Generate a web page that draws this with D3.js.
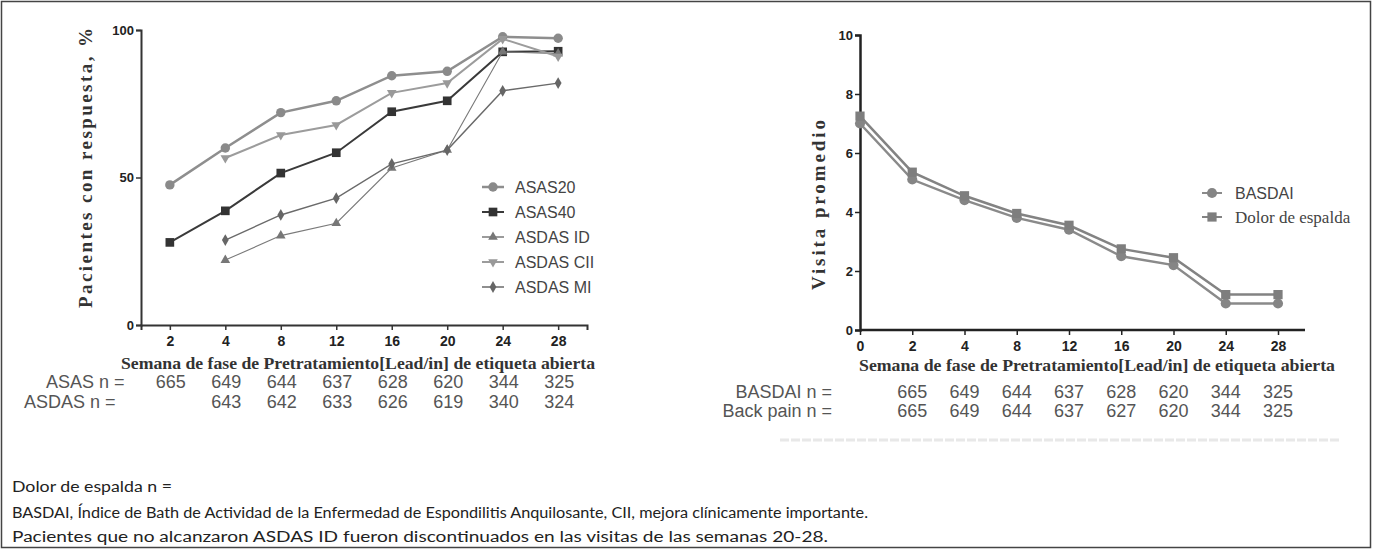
<!DOCTYPE html>
<html>
<head>
<meta charset="utf-8">
<script src="https://cdn.jsdelivr.net/npm/d3@7"></script>
<style>
body { margin:0; background:#fff; }
svg text { fill:#333; }
.tick text { font-family: "Liberation Sans", Arial, sans-serif; font-weight:bold; font-size:14px; fill:#222; }
.ttl { font-family: "Liberation Serif", "Times New Roman", serif; font-weight:bold; fill:#333; }
.tbl { font-family: "Liberation Sans", Arial, sans-serif; font-size:18px; fill:#555; }
.leg { font-family: "Liberation Sans", Arial, sans-serif; font-size:16px; fill:#444; }
.foot { font-family: Lato, "Noto Sans", sans-serif; font-size:15.5px; fill:#222; }
</style>
</head>
<body>
<svg id="fig" width="1373" height="550"></svg>
<script>
// left panel: response rates
var weeksL = [2,4,8,12,16,20,24,28];
var asas20   = [47.5,60,72,76,84.5,86,97.7,97.2];
var asas40   = [28,38.7,51.5,58.4,72.3,76,92.6,92.8];
var asdasID  = [null,22,30.3,34.5,53.2,59.3,92.6,92];
var asdasCII = [null,56.6,64.4,67.8,78.7,82,97,91];
var asdasMI  = [null,28.8,37.3,43,54.6,59.3,79.4,82];
var asasN  = [665,649,644,637,628,620,344,325];
var asdasN = [null,643,642,633,626,619,340,324];
var ticksL = [0,50,100];

// right panel: mean scores
var weeksR = [0,2,4,8,12,16,20,24,28];
var basdai   = [7.0,5.1,4.4,3.8,3.4,2.5,2.2,0.9,0.9];
var backPain = [7.25,5.35,4.55,3.95,3.55,2.75,2.45,1.2,1.2];
var basdaiN = [665,649,644,637,628,620,344,325];
var backN   = [665,649,644,637,627,620,344,325];
var ticksR = [0,2,4,6,8,10];

var xLabel = "Semana de fase de Pretratamiento[Lead/in] de etiqueta abierta";
var notes = [
  "Dolor de espalda n =",
  "BASDAI, Índice de Bath de Actividad de la Enfermedad de Espondilitis Anquilosante, CII, mejora clínicamente importante.",
  "Pacientes que no alcanzaron ASDAS ID fueron discontinuados en las visitas de las semanas 20-28."
];
var notesLen = [160, 856, 816];

var svg = d3.select("#fig");

svg.append("rect").attr("x",1.5).attr("y",1.5).attr("width",1369).attr("height",546)
  .attr("fill","none").attr("stroke","#444").attr("stroke-width",1.5);

function symbolPath(type, size) {
  return d3.symbol().type(type).size(size)();
}

function drawSeries(g, x, y, weeks, vals, st) {
  var pts = weeks.map(function(w,i){ return {w:w, v:vals[i]}; }).filter(function(d){ return d.v!=null; });
  var line = d3.line().x(function(d){ return x(d.w); }).y(function(d){ return y(d.v); });
  g.append("path").datum(pts).attr("d", line)
    .attr("fill","none").attr("stroke", st.line).attr("stroke-width", st.lw);
  g.selectAll("path.m"+st.id).data(pts).enter().append("path")
    .attr("class","m"+st.id)
    .attr("d", symbolPath(st.sym, st.size))
    .attr("transform", function(d){ return "translate("+x(d.w)+","+y(d.v)+")"+(st.rot? " rotate("+st.rot+")":""); })
    .attr("fill", st.fill);
}

// ---------- left chart ----------
var gl = svg.append("g");
var xl = d3.scalePoint().domain(weeksL).range([141,587]).padding(0.52);
var yl = d3.scaleLinear().domain([0,100]).range([325,30]);

gl.append("g").attr("transform","translate(0,325)")
  .call(d3.axisBottom(xl).tickSize(5).tickPadding(6))
  .call(function(a){ a.select(".domain").attr("stroke","#333").attr("stroke-width",2); a.selectAll(".tick line").attr("stroke","#333").attr("stroke-width",1.5); });
gl.append("g").attr("transform","translate(141,0)")
  .call(d3.axisLeft(yl).tickValues(ticksL).tickSize(5).tickPadding(2))
  .call(function(a){ a.select(".domain").attr("stroke","#333").attr("stroke-width",2); a.selectAll(".tick line").attr("stroke","#333").attr("stroke-width",1.5); a.selectAll("text").style("font-size","13px"); });

var seriesL = [
  {id:"a", name:"ASAS20",     vals:asas20,   line:"#8e8e8e", lw:2.5, sym:d3.symbolCircle,   size:70, fill:"#8a8a8a"},
  {id:"b", name:"ASAS40",     vals:asas40,   line:"#3a3a3a", lw:2,   sym:d3.symbolSquare,   size:75, fill:"#333"},
  {id:"c", name:"ASDAS ID",   vals:asdasID,  line:"#7a7a7a", lw:1.1, sym:d3.symbolTriangle, size:40, fill:"#777"},
  {id:"d", name:"ASDAS CII",  vals:asdasCII, line:"#9c9c9c", lw:2,   sym:d3.symbolTriangle, size:40, fill:"#999", rot:180},
  {id:"e", name:"ASDAS MI",   vals:asdasMI,  line:"#6a6a6a", lw:1.4, sym:d3.symbolDiamond,  size:40, fill:"#666"}
];
seriesL.forEach(function(s){ drawSeries(gl, xl, yl, weeksL, s.vals, s); });

var legL = gl.append("g").selectAll("g").data(seriesL).enter().append("g")
  .attr("transform", function(d,i){ return "translate(493,"+(187+i*25)+")"; });
legL.append("line").attr("x1",-11).attr("x2",11).attr("stroke",function(d){return d.line;}).attr("stroke-width",function(d){return Math.max(d.lw,1.5);});
legL.append("path").attr("d",function(d){ return symbolPath(d.sym,d.size); })
  .attr("transform",function(d){ return d.rot? "rotate("+d.rot+")":""; })
  .attr("fill",function(d){return d.fill;});
legL.append("text").attr("class","leg").attr("x",22).attr("dy","0.35em").text(function(d){return d.name;});

gl.append("text").attr("class","ttl").attr("x",358).attr("y",369)
  .attr("text-anchor","middle").style("font-size","17px")
  .attr("textLength",474).attr("lengthAdjust","spacingAndGlyphs").text(xLabel);
gl.append("text").attr("class","ttl").attr("transform","translate(92,168) rotate(-90)")
  .attr("text-anchor","middle").style("font-size","19px")
  .attr("textLength",280).attr("lengthAdjust","spacing").text("Pacientes con respuesta, %");

var tL = gl.append("g");
tL.append("text").attr("class","tbl").attr("x",46).attr("y",388).text("ASAS n =");
tL.append("text").attr("class","tbl").attr("x",24).attr("y",408).text("ASDAS n =");
tL.selectAll("text.r1").data(weeksL).enter().append("text").attr("class","tbl r1")
  .attr("x",function(w){ return xl(w)+1; }).attr("y",388).attr("text-anchor","middle")
  .text(function(w,i){ return asasN[i]; });
tL.selectAll("text.r2").data(weeksL.filter(function(w,i){ return asdasN[i]!=null; })).enter().append("text").attr("class","tbl r2")
  .attr("x",function(w){ return xl(w)+1; }).attr("y",408).attr("text-anchor","middle")
  .text(function(w){ return asdasN[weeksL.indexOf(w)]; });

// ---------- right chart ----------
var gr = svg.append("g");
var xr = d3.scalePoint().domain(weeksR).range([860,1278]);
var yr = d3.scaleLinear().domain([0,10]).range([330,35]);

gr.append("g").attr("transform","translate(0,330)")
  .call(d3.axisBottom(xr).tickSize(5).tickPadding(6))
  .call(function(a){ a.select(".domain").remove(); a.selectAll(".tick line").attr("stroke","#222").attr("stroke-width",1.5); });
gr.append("line").attr("x1",860).attr("x2",1305).attr("y1",330).attr("y2",330).attr("stroke","#222").attr("stroke-width",2.5);
gr.append("g").attr("transform","translate(860,0)")
  .call(d3.axisLeft(yr).tickValues(ticksR).tickSize(5).tickPadding(2))
  .call(function(a){ a.select(".domain").attr("stroke","#222").attr("stroke-width",2.5); a.selectAll(".tick line").attr("stroke","#222").attr("stroke-width",1.5); a.selectAll("text").style("font-size","13px"); });

var seriesR = [
  {id:"f", name:"BASDAI",           vals:basdai,   line:"#8a8a8a", lw:2.5, sym:d3.symbolCircle, size:80, fill:"#858585", serif:false},
  {id:"g", name:"Dolor de espalda", vals:backPain, line:"#838383", lw:2.5, sym:d3.symbolSquare, size:85, fill:"#7e7e7e", serif:true}
];
seriesR.forEach(function(s){ drawSeries(gr, xr, yr, weeksR, s.vals, s); });

var legR = gr.append("g").selectAll("g").data(seriesR).enter().append("g")
  .attr("transform", function(d,i){ return "translate(1212,"+(193+i*24)+")"; });
legR.append("line").attr("x1",-10).attr("x2",10).attr("stroke",function(d){return d.line;}).attr("stroke-width",2);
legR.append("path").attr("d",function(d){ return symbolPath(d.sym,d.size); }).attr("fill",function(d){return d.fill;});
legR.append("text").attr("x",23).attr("dy","0.35em")
  .attr("class",function(d){ return d.serif? "" : "leg"; })
  .style("font-family",function(d){ return d.serif? "'Liberation Serif', serif" : null; })
  .style("font-size",function(d){ return d.serif? "17px" : null; })
  .style("fill","#444")
  .text(function(d){return d.name;});

gr.append("text").attr("class","ttl").attr("x",1097).attr("y",371)
  .attr("text-anchor","middle").style("font-size","17px")
  .attr("textLength",476).attr("lengthAdjust","spacingAndGlyphs").text(xLabel);
gr.append("text").attr("class","ttl").attr("transform","translate(825,205) rotate(-90)")
  .attr("text-anchor","middle").style("font-size","19px")
  .attr("textLength",170).attr("lengthAdjust","spacing").text("Visita promedio");

var tR = gr.append("g");
tR.append("text").attr("class","tbl").attr("x",832).attr("y",398).attr("text-anchor","end").text("BASDAI n =");
tR.append("text").attr("class","tbl").attr("x",832).attr("y",417).attr("text-anchor","end").text("Back pain n =");
tR.selectAll("text.r1").data(weeksR.slice(1)).enter().append("text").attr("class","tbl r1")
  .attr("x",function(w){ return xr(w); }).attr("y",398).attr("text-anchor","middle")
  .text(function(w,i){ return basdaiN[i]; });
tR.selectAll("text.r2").data(weeksR.slice(1)).enter().append("text").attr("class","tbl r2")
  .attr("x",function(w){ return xr(w); }).attr("y",417).attr("text-anchor","middle")
  .text(function(w,i){ return backN[i]; });
gr.append("line").attr("x1",780).attr("x2",1340).attr("y1",440).attr("y2",440)
  .attr("stroke","#e8e8e8").attr("stroke-width",3).attr("stroke-dasharray","9,2");

// ---------- footnotes ----------
svg.selectAll("text.foot").data(notes).enter().append("text").attr("class","foot")
  .attr("x",12).attr("y",function(d,i){ return [492,518,542][i]; })
  .attr("textLength",function(d,i){ return notesLen[i]; })
  .attr("lengthAdjust","spacingAndGlyphs")
  .text(function(d){ return d; });
</script>
</body>
</html>
